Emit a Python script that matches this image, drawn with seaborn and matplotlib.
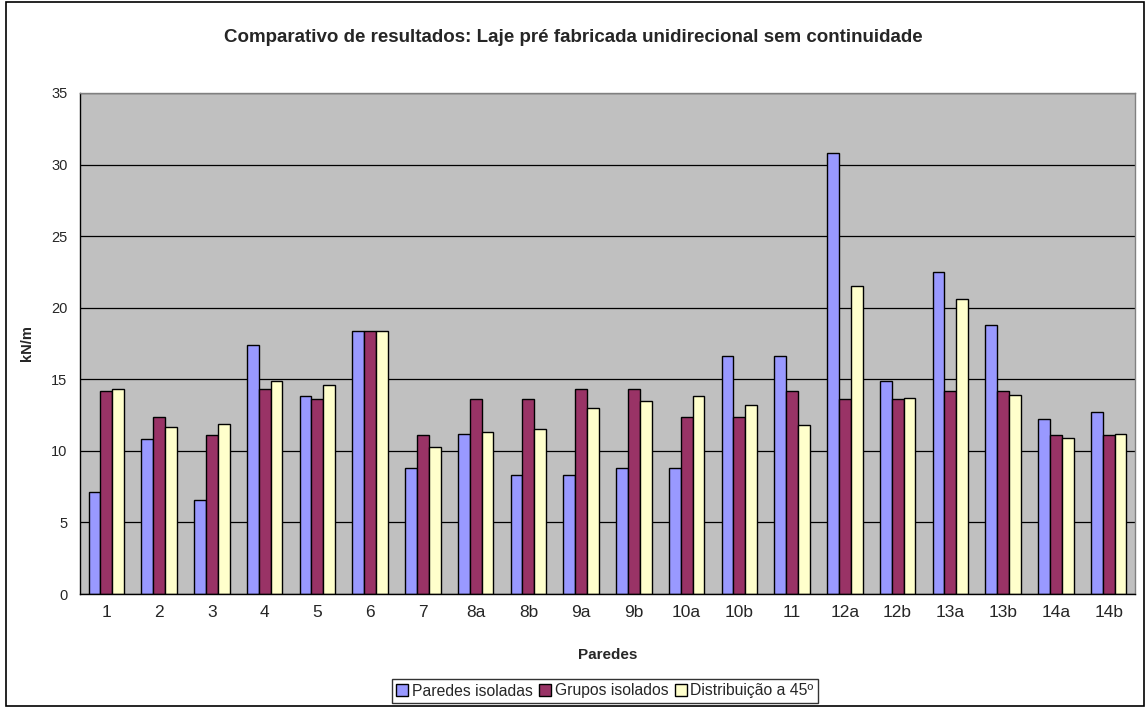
import matplotlib
matplotlib.use("Agg")
import matplotlib.pyplot as plt
import seaborn as sns
import pandas as pd
import numpy as np
from matplotlib.patches import Rectangle

paredes = ["1", "2", "3", "4", "5", "6", "7", "8a", "8b", "9a", "9b", "10a", "10b",
           "11", "12a", "12b", "13a", "13b", "14a", "14b"]
paredes_isoladas = [7.1, 10.8, 6.6, 17.4, 13.8, 18.4, 8.8, 11.2, 8.3, 8.3, 8.8, 8.8, 16.6,
                    16.6, 30.8, 14.9, 22.5, 18.8, 12.2, 12.7]
grupos_isolados = [14.2, 12.4, 11.1, 14.3, 13.6, 18.4, 11.1, 13.6, 13.6, 14.3, 14.3, 12.4, 12.4,
                   14.2, 13.6, 13.6, 14.2, 14.2, 11.1, 11.1]
distribuicao_45 = [14.3, 11.7, 11.9, 14.9, 14.6, 18.4, 10.3, 11.3, 11.5, 13.0, 13.5, 13.8, 13.2,
                   11.8, 21.5, 13.7, 20.6, 13.9, 10.9, 11.2]
series = ["Paredes isoladas", "Grupos isolados", "Distribuição a 45º"]
colors = ["#9999FF", "#993366", "#FFFFCC"]

df = pd.DataFrame({
    "Paredes": paredes * 3,
    "valor": paredes_isoladas + grupos_isolados + distribuicao_45,
    "serie": [s for s in series for _ in paredes],
})

sns.set_style("white")
plt.rcParams["font.family"] = ["Liberation Sans", "DejaVu Sans"]

fig = plt.figure(figsize=(11.46, 7.08), dpi=100)
ax = fig.add_axes([80 / 1146, 1 - 594 / 708, (1135 - 80) / 1146, (594 - 93) / 708])
ax.set_facecolor("#C0C0C0")

sns.barplot(data=df, x="Paredes", y="valor", hue="serie", order=paredes,
            hue_order=series, palette=colors, width=0.67, gap=0, saturation=1,
            edgecolor="black", linewidth=1.0, ax=ax, legend=False, errorbar=None)

ax.set_ylim(0, 35)
ax.set_xlim(-0.5, len(paredes) - 0.5)
ax.set_yticks(np.arange(0, 36, 5))
ax.yaxis.grid(True, color="black", linewidth=0.9)
ax.set_axisbelow(True)

# category boundary ticks on x axis
ax.set_xticks(np.arange(len(paredes)))
ax.set_xticks(np.arange(-0.5, len(paredes)), minor=True)
ax.tick_params(axis="x", which="major", length=0, labelsize=12.5, pad=8)
ax.tick_params(axis="x", which="minor", length=5, width=1, color="black", direction="out")
ax.tick_params(axis="y", length=5, width=1, color="black", direction="out", labelsize=10.5, pad=4)

for side in ["left", "bottom"]:
    ax.spines[side].set_color("black")
    ax.spines[side].set_linewidth(1.0)
for side in ["top", "right"]:
    ax.spines[side].set_visible(True)
    ax.spines[side].set_color("#808080")
    ax.spines[side].set_linewidth(1.0)

ax.set_xlabel("Paredes", fontsize=11, fontweight="bold", labelpad=20)
ax.set_ylabel("kN/m", fontsize=10.5, fontweight="bold", labelpad=12)

fig.text(0.5, 1 - 38 / 708, "Comparativo de resultados: Laje pré fabricada unidirecional sem continuidade",
         ha="center", va="center", fontsize=13.5, fontweight="bold")

handles = [Rectangle((0, 0), 1, 1, facecolor=c, edgecolor="black", linewidth=1.0) for c in colors]
leg = fig.legend(handles, series, loc="center", bbox_to_anchor=(605 / 1146, 1 - 691 / 708),
                 ncol=3, frameon=True, fancybox=False, fontsize=11.3, handlelength=0.75,
                 handleheight=0.75, handletextpad=0.25, columnspacing=0.4, borderpad=0.3,
                 borderaxespad=0)
leg.get_frame().set_edgecolor("black")
leg.get_frame().set_linewidth(1.0)

fig.patches.append(Rectangle((6 / 1146, 0.003), 1 - 8 / 1146, 0.994, transform=fig.transFigure,
                             fill=False, edgecolor="black", linewidth=1.2))

fig.savefig("out.png", dpi=100, facecolor="white")
